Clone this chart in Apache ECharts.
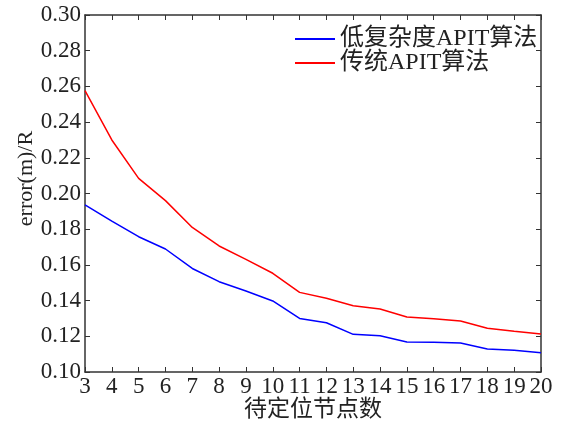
<!DOCTYPE html>
<html>
<head>
<meta charset="utf-8">
<script src="https://cdn.jsdelivr.net/npm/echarts@6/dist/echarts.min.js"></script>
<style>
  html, body { margin: 0; padding: 0; background: #fff; }
  #chart { width: 563px; height: 423px; }
</style>
</head>
<body>
<div id="chart"></div>
<script>
// 待定位节点数
var nodes = [3, 4, 5, 6, 7, 8, 9, 10, 11, 12, 13, 14, 15, 16, 17, 18, 19, 20]
// 低复杂度APIT算法
var lowApit = [0.1936, 0.1845, 0.1758, 0.1689, 0.1580, 0.1506, 0.1454, 0.1398, 0.1300, 0.1276, 0.1211, 0.1203, 0.1168, 0.1166, 0.1162, 0.1129, 0.1122, 0.1108]
// 传统APIT算法
var oldApit = [0.2576, 0.2300, 0.2085, 0.1960, 0.1810, 0.1706, 0.1631, 0.1553, 0.1446, 0.1413, 0.1371, 0.1353, 0.1308, 0.1299, 0.1286, 0.1245, 0.1228, 0.1213]
var seriesNames = ['低复杂度APIT算法', '传统APIT算法']

var font = '"Liberation Serif", "Noto Sans CJK SC", serif'
var axisColor = '#333'
var textColor = '#222'

function pairs (ys) {
  return nodes.map(function (x, i) { return [x, ys[i]] })
}

var chart = echarts.init(document.getElementById('chart'))
// 四周边框的公共设置，刻度朝内
var boxAxis = {
  axisLine: { show: true, lineStyle: { color: axisColor, width: 1.5 } },
  axisTick: { show: true, inside: true, length: 5, lineStyle: { color: axisColor } },
  splitLine: { show: false }
}
chart.setOption({
  animation: false,
  textStyle: { fontFamily: font },
  grid: { left: 85, right: 22, top: 15, bottom: 51, containLabel: false, outerBoundsMode: 'none' },
  legend: {
    orient: 'vertical',
    left: 290,
    top: 22,
    itemWidth: 40,
    itemHeight: 2,
    itemGap: 0,
    icon: 'rect',
    textStyle: { fontFamily: font, fontSize: 24, lineHeight: 24, color: textColor },
    data: seriesNames
  },
  xAxis: [
    Object.assign({
      type: 'value',
      min: 3,
      max: 20,
      interval: 1,
      name: '待定位节点数',
      nameLocation: 'middle',
      nameGap: 26,
      nameMoveOverlap: false,
      nameTextStyle: { fontFamily: font, fontSize: 23, color: textColor },
      axisLabel: { fontSize: 23, color: textColor, margin: 3 }
    }, boxAxis),
    Object.assign({
      type: 'value',
      position: 'top',
      min: 3,
      max: 20,
      interval: 1,
      axisLabel: { show: false }
    }, boxAxis)
  ],
  yAxis: [
    Object.assign({
      type: 'value',
      min: 0.1,
      max: 0.3,
      interval: 0.02,
      name: 'error(m)/R',
      nameLocation: 'middle',
      nameGap: 48,
      nameMoveOverlap: false,
      nameTextStyle: { fontFamily: font, fontSize: 22, color: textColor, padding: [0, 0, 0, 30] },
      axisLabel: {
        fontSize: 23,
        color: textColor,
        margin: 4,
        formatter: function (v) { return v.toFixed(2) }
      }
    }, boxAxis),
    Object.assign({
      type: 'value',
      position: 'right',
      min: 0.1,
      max: 0.3,
      interval: 0.02,
      axisLabel: { show: false }
    }, boxAxis)
  ],
  series: [
    {
      name: seriesNames[0],
      type: 'line',
      showSymbol: false,
      symbol: 'none',
      color: '#0000ff',
      lineStyle: { width: 1.5, color: '#0000ff' },
      data: pairs(lowApit)
    },
    {
      name: seriesNames[1],
      type: 'line',
      showSymbol: false,
      symbol: 'none',
      color: '#ff0000',
      lineStyle: { width: 1.5, color: '#ff0000' },
      data: pairs(oldApit)
    }
  ]
})
</script>
</body>
</html>
